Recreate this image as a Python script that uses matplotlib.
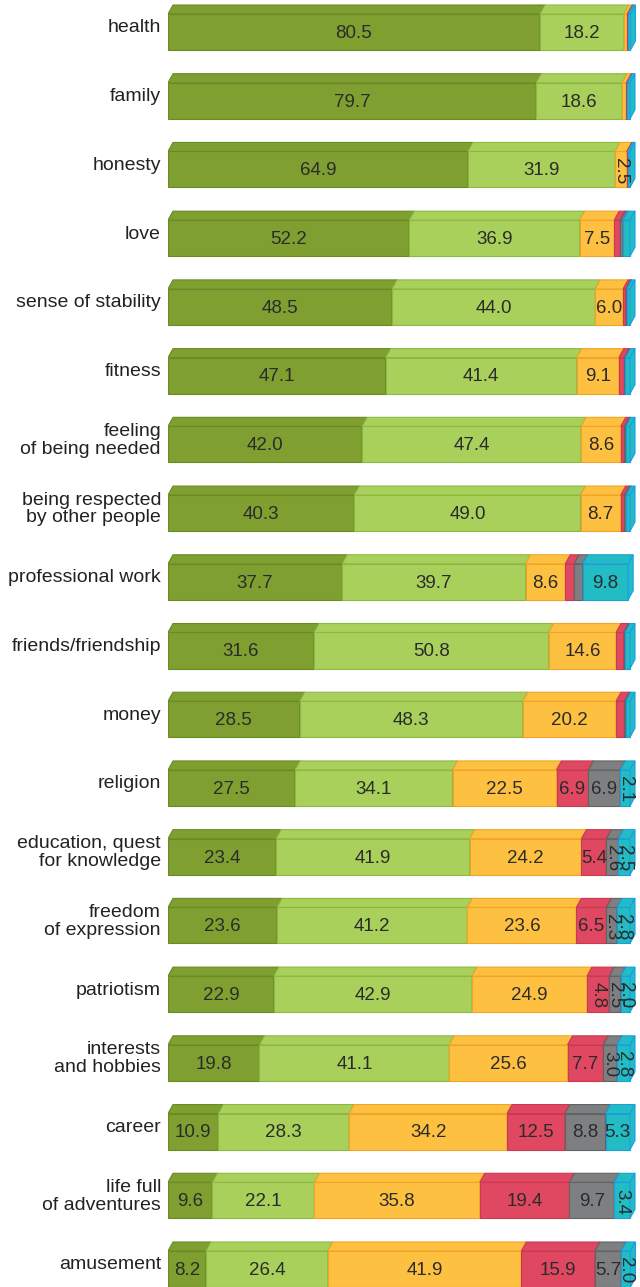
import numpy as np
import matplotlib
matplotlib.use('Agg')
import matplotlib.pyplot as plt
from matplotlib.patches import Polygon

plt.rcParams['font.family'] = ['Liberation Sans', 'DejaVu Sans']

categories = ['health', 'family', 'honesty', 'love', 'sense of stability', 'fitness',
              'feeling\nof being needed', 'being respected\nby other people',
              'professional work', 'friends/friendship', 'money', 'religion',
              'education, quest\nfor knowledge', 'freedom\nof expression', 'patriotism',
              'interests\nand hobbies', 'career', 'life full\nof adventures', 'amusement']

very_important = [80.5, 79.7, 64.9, 52.2, 48.5, 47.1, 42.0, 40.3, 37.7, 31.6, 28.5, 27.5,
                  23.4, 23.6, 22.9, 19.8, 10.9, 9.6, 8.2]
rather_important = [18.2, 18.6, 31.9, 36.9, 44.0, 41.4, 47.4, 49.0, 39.7, 50.8, 48.3, 34.1,
                    41.9, 41.2, 42.9, 41.1, 28.3, 22.1, 26.4]
neutral = [0.7, 0.9, 2.5, 7.5, 6.0, 9.1, 8.6, 8.7, 8.6, 14.6, 20.2, 22.5,
           24.2, 23.6, 24.9, 25.6, 34.2, 35.8, 41.9]
rather_unimportant = [0.2, 0.2, 0.2, 1.3, 0.6, 1.2, 0.8, 0.8, 1.9, 1.6, 1.8, 6.9,
                      5.4, 6.5, 4.8, 7.7, 12.5, 19.4, 15.9]
unimportant = [0.0, 0.0, 0.0, 0.6, 0.2, 0.2, 0.3, 0.4, 1.9, 0.3, 0.3, 6.9,
               2.6, 2.3, 2.5, 3.0, 8.8, 9.7, 5.7]
hard_to_say = [0.5, 0.6, 0.5, 1.5, 0.7, 1.0, 0.9, 0.8, 9.8, 1.1, 0.9, 2.1,
               2.5, 2.8, 2.0, 2.8, 5.3, 3.4, 2.0]

series = [very_important, rather_important, neutral, rather_unimportant, unimportant, hard_to_say]
face_colors = ['#7fa030', '#a9d05b', '#fec041', '#e04862', '#7e7f81', '#22bcc4']
edge_colors = ['#6a8a26', '#8db844', '#f0a526', '#c83a52', '#626365', '#1a9ee0']

W, H = 640, 1287
fig = plt.figure(figsize=(W / 100, H / 100), dpi=100)
left_px = 168
ax = fig.add_axes([left_px / W, 0, (W - left_px) / W, 1])

x_max = 100 * (W - left_px) / 462.0
pitch = 68.72
ax.set_xlim(0, x_max)
ax.set_ylim(18 + (H - 1269) / pitch, -32 / pitch)
ax.axis('off')

bar_h = 36 / pitch
dx = 5 * x_max / (W - left_px)
dy = 9 / pitch

y = np.arange(len(categories))
left = np.zeros(len(categories))
for k, vals in enumerate(series):
    vals = np.array(vals)
    ax.barh(y, vals, left=left, height=bar_h, color=face_colors[k],
            edgecolor=edge_colors[k], linewidth=0.8, zorder=2 + k)
    for i in range(len(categories)):
        x0, x1 = left[i], left[i] + vals[i]
        yt = y[i] - bar_h / 2
        yb = y[i] + bar_h / 2
        if vals[i] > 0:
            top = Polygon([(x0, yt), (x0 + dx, yt - dy), (x1 + dx, yt - dy), (x1, yt)],
                          closed=True, facecolor=face_colors[k], edgecolor=edge_colors[k],
                          linewidth=0.8, zorder=2 + k)
            side = Polygon([(x1, yt), (x1 + dx, yt - dy), (x1 + dx, yb - dy), (x1, yb)],
                           closed=True, facecolor=face_colors[k], edgecolor=edge_colors[k],
                           linewidth=0.8, zorder=2 + k)
            ax.add_patch(top)
            ax.add_patch(side)
        if vals[i] >= 2:
            rot = -90 if vals[i] < 5 else 0
            ax.text((x0 + x1) / 2, y[i] + 0.02, '%.1f' % vals[i], ha='center', va='center',
                    rotation=rot, fontsize=13.5, color='#2b2b2b', zorder=20)
    left = left + vals

for i, cat in enumerate(categories):
    fig.text((left_px - 7) / W, 1 - (32 + i * pitch - 4) / H, cat, ha='right', va='center',
             fontsize=14, color='#222222', linespacing=1.05)

fig.savefig('out.png', dpi=100)
